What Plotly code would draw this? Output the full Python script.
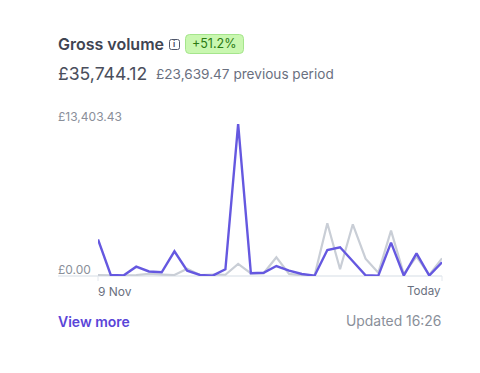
import plotly.graph_objects as go

days = ["9 Nov"] + [f"{d} Nov" for d in range(10, 31)] + [f"{d} Dec" for d in range(1, 6)] + ["Today"]
current = [3220, 90, 40, 820, 400, 330, 2180, 470, 90, 30, 590, 13403, 240, 290,
           880, 470, 180, 30, 2290, 2530, 1300, 60, 30, 2940, 40, 2000, 40, 1210]
previous = [90, 40, 40, 90, 180, 130, 90, 640, 90, 130, 110, 1060, 240, 240,
            1650, 180, 60, 40, 4650, 590, 4560, 1530, 290, 4000, 180, 1700, 90, 1560]
tick_labels = ["9 Nov", "Today"]
y_labels = ["£13,403.43", "£0.00"]

W, H = 480, 373
L, R, T, B = 98, 442, 124, 276


def px(x):
    return (x - L) / (R - L)


def py(y):
    return (B - y) / (B - T)


def text(x, y, s, size, color, anchor="left", weight=400):
    return dict(xref="paper", yref="paper", x=px(x), y=py(y), text=s, showarrow=False,
                xanchor=anchor, yanchor="middle", align=anchor, borderpad=0, borderwidth=0,
                font=dict(family="Inter", size=size, color=color, weight=weight))


def round_rect(x0, y0, x1, y1, r):
    a, b, c, d = px(x0), px(x1), py(y0), py(y1)
    rx, ry = r / (R - L), r / (B - T)
    return (f"M{a + rx},{c} L{b - rx},{c} Q{b},{c} {b},{c - ry} L{b},{d + ry} Q{b},{d} {b - rx},{d} "
            f"L{a + rx},{d} Q{a},{d} {a},{d + ry} L{a},{c - ry} Q{a},{c} {a + rx},{c} Z")


fig = go.Figure()
fig.add_trace(go.Scatter(x=days, y=previous, mode="lines", cliponaxis=False, hoverinfo="skip",
                         line=dict(color="#c9ced6", width=2.2)))
fig.add_trace(go.Scatter(x=days, y=current, mode="lines", cliponaxis=False, hoverinfo="skip",
                         line=dict(color="#6558e0", width=2.4)))

annotations = [
    text(58, 44, "Gross volume", 16, "#404452", weight=600),
    text(214, 44, "+51.2%", 12.5, "#2a7a12", "center", 400),
    text(58, 73, "£35,744.12", 17.6, "#4a4e5c"),
    text(156, 74, "£23,639.47 previous period", 13.6, "#6a7080"),
    text(58, 116, y_labels[0], 12, "#8a8f9a"),
    text(58, 269, y_labels[1], 12, "#8a8f9a"),
    text(98, 291, tick_labels[0], 12, "#6a7080"),
    text(441, 291, tick_labels[1], 11.6, "#6a7080", "right"),
    text(58, 321, "View more", 14, "#5a45d8", weight=600),
    text(441, 321, "Updated 16:26", 13.9, "#8a8f9a", "right"),
    text(174, 44, "i", 8, "#4f566b", "center", 700),
]

shapes = [
    dict(type="path", xref="paper", yref="paper", path=round_rect(185.5, 34.5, 243.5, 53.5, 4),
         fillcolor="#c9f7b0", line=dict(color="#a5e58c", width=1)),
    dict(type="path", xref="paper", yref="paper", path=round_rect(169.5, 39.5, 179.5, 49.5, 2),
         fillcolor="rgba(0,0,0,0)", line=dict(color="#4f566b", width=1)),
    dict(type="line", xref="paper", yref="paper", x0=px(98), x1=px(98), y0=py(276), y1=py(281),
         line=dict(color="#e3e8ee", width=1)),
    dict(type="line", xref="paper", yref="paper", x0=px(442), x1=px(442), y0=py(276), y1=py(281),
         line=dict(color="#e3e8ee", width=1)),
    dict(type="line", xref="paper", yref="paper", x0=px(58), x1=px(442), y0=py(276), y1=py(276),
         line=dict(color="#e3e8ee", width=1.5), layer="below"),
]

fig.update_layout(
    width=W, height=H, margin=dict(l=L, r=W - R, t=T, b=H - B),
    paper_bgcolor="white", plot_bgcolor="white", showlegend=False,
    annotations=annotations, shapes=shapes,
    xaxis=dict(type="category", range=[0, len(days) - 1], showgrid=False, zeroline=False,
               showline=False, showticklabels=False, ticks=""),
    yaxis=dict(range=[0, max(current)], showgrid=False, zeroline=False, showline=False,
               showticklabels=False, ticks=""),
)
fig.write_html("out.html", post_script="document.body.style.margin='0';", config=dict(displayModeBar=False))
